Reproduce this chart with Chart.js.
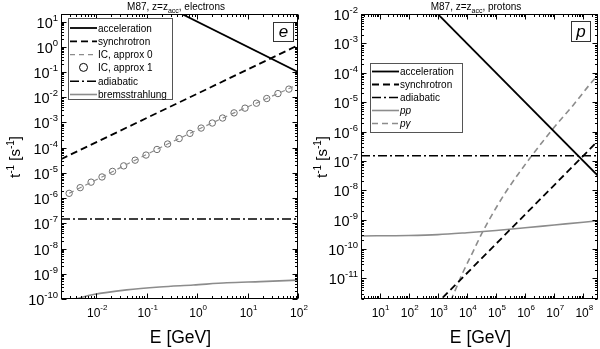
<!DOCTYPE html>
<html lang="en">
<head>
<meta charset="UTF-8">
<title>M87, z=z_acc: electron and proton rates</title>
<style>
  body { margin: 0; background: #fff; }
  .wrap { position: relative; width: 600px; height: 349px; overflow: hidden; }
  #leftChart { position: absolute; left: 0; top: 0; }
  #rightChart { position: absolute; left: 300px; top: 0; }
</style>
<script src="https://cdn.jsdelivr.net/npm/chart.js"></script>
</head>
<body>
<div class="wrap">
  <canvas id="leftChart" width="310" height="349" style="width:310px;height:349px"></canvas>
  <canvas id="rightChart" width="300" height="349" style="width:300px;height:349px"></canvas>
</div>
<script>
// electrons, E in GeV, rates in 1/s
const elecAccE = [0.4, 100];
const elecAccRate = [25, 0.1];
const elecSynE = [0.002, 100];
const elecSynRate = [3.5e-5, 1.15];
const elecIc0E = [0.0029, 0.013, 0.059, 0.26, 1.2, 5.4, 24, 100];
const elecIc0Rate = [1.55e-6, 6.9e-6, 3.2e-5, 1.4e-4, 6.0e-4, 2.4e-3, 8.9e-3, 3.2e-2];
const elecIc1E = [0.0029, 0.0048, 0.0079, 0.013, 0.021, 0.035, 0.059, 0.097, 0.16, 0.26, 0.44,
                  0.72, 1.2, 2.0, 3.2, 5.4, 8.9, 15, 24, 40, 66];
const elecIc1Rate = [1.55e-6, 2.6e-6, 4.3e-6, 6.9e-6, 1.15e-5, 1.9e-5, 3.2e-5, 5.1e-5, 8.5e-5, 1.4e-4, 2.3e-4,
                     3.7e-4, 6.0e-4, 9.5e-4, 1.5e-3, 2.4e-3, 3.7e-3, 5.8e-3, 8.9e-3, 1.4e-2, 2.1e-2];
const elecAdiE = [0.002, 100];
const elecAdiRate = [1.5e-7, 1.5e-7];
const elecBremE = [0.0038, 0.0088, 0.04, 0.18, 0.84, 3.9, 18, 100];
const elecBremRate = [1.0e-10, 1.5e-10, 2.3e-10, 3.0e-10, 3.6e-10, 4.4e-10, 4.9e-10, 5.6e-10];

// protons
const protAccE = [800, 3.2e8];
const protAccRate = [0.0125, 3.1e-8];
const protSynE = [800, 3.2e8];
const protSynRate = [1.2e-12, 4.8e-7];
const protAdiE = [2.3, 3.2e8];
const protAdiRate = [1.5e-7, 1.5e-7];
const protPpE = [2.3, 100, 1e3, 1e4, 1e5, 1e6, 1e7, 1e8, 3.2e8];
const protPpRate = [2.8e-10, 2.9e-10, 3.1e-10, 3.6e-10, 4.3e-10, 5.3e-10, 6.6e-10, 8.2e-10, 9.2e-10];
const protPgE = [2.8e3, 4e3, 5.6e3, 7.9e3, 1.6e4, 3.5e4, 1e5, 2.2e5, 6.3e5, 1.6e6, 4e6, 1e7, 4.5e7, 1.6e8, 3.2e8];
const protPgRate = [1.8e-12, 4e-12, 8.9e-12, 1.9e-11, 7.9e-11, 3.9e-10, 2.5e-9, 8.9e-9, 4e-8, 1.4e-7,
                    4.5e-7, 1.4e-6, 7.9e-6, 3.8e-5, 8.5e-5];

// tick labels (powers of ten)
const elecXExp = [-2, -1, 0, 1, 2];
const elecYExp = [1, 0, -1, -2, -3, -4, -5, -6, -7, -8, -9, -10];
const protXExp = [1, 2, 3, 4, 5, 6, 7, 8];
const protYExp = [-2, -3, -4, -5, -6, -7, -8, -9, -10, -11];

const FONT = '"Liberation Sans", Arial, Helvetica, sans-serif';
const GRAY = '#8c8c8c';

const pts = (xs, ys) => xs.map((x, i) => ({ x: x, y: ys[i] }));

function line(label, xs, ys, color, width, dash, extra) {
    return Object.assign({
        label: label,
        data: pts(xs, ys),
        showLine: true,
        borderColor: color,
        borderWidth: width,
        borderDash: dash,
        pointRadius: 0,
        fill: false,
        clip: 0
    }, extra || {});
}

// draw a run of text pieces: [text, size, dy, italic]
function rich(ctx, parts, x, y, align) {
    let w = 0;
    parts.forEach(p => {
        ctx.font = (p[3] ? 'italic ' : '') + p[1] + 'px ' + FONT;
        w += ctx.measureText(p[0]).width;
    });
    let cx = align === 'center' ? x - w / 2 : (align === 'right' ? x - w : x);
    ctx.textAlign = 'left';
    ctx.textBaseline = 'alphabetic';
    parts.forEach(p => {
        ctx.font = (p[3] ? 'italic ' : '') + p[1] + 'px ' + FONT;
        ctx.fillText(p[0], cx, y + (p[2] || 0));
        cx += ctx.measureText(p[0]).width;
    });
}

const decor = {
    id: 'decor',
    afterDraw(chart, args, o) {
        const ctx = chart.ctx, a = chart.chartArea;
        const xs = chart.scales.x, ys = chart.scales.y;
        ctx.save();
        ctx.fillStyle = '#000';
        ctx.strokeStyle = '#000';
        ctx.lineWidth = 1;
        ctx.setLineDash([]);

        // frame
        const L = Math.round(a.left) + 0.5, R = Math.round(a.right) - 0.5;
        const T = Math.round(a.top) + 0.5, B = Math.round(a.bottom) - 0.5;
        ctx.strokeRect(L, T, R - L, B - T);

        // log ticks on all four sides
        ctx.beginPath();
        [[xs, true], [ys, false]].forEach(([s, horiz]) => {
            const d0 = Math.floor(Math.log10(s.min)), d1 = Math.ceil(Math.log10(s.max));
            for (let d = d0; d <= d1; d++) {
                for (let m = 1; m < 10; m++) {
                    const v = m * Math.pow(10, d);
                    if (v < s.min * 0.999 || v > s.max * 1.001) continue;
                    const p = Math.round(s.getPixelForValue(v)) + 0.5;
                    const len = m === 1 ? 5 : 2.5;
                    if (horiz) {
                        ctx.moveTo(p, B); ctx.lineTo(p, B - len);
                        ctx.moveTo(p, T); ctx.lineTo(p, T + len);
                    } else {
                        ctx.moveTo(L, p); ctx.lineTo(L + len, p);
                        ctx.moveTo(R, p); ctx.lineTo(R - len, p);
                    }
                }
            }
        });
        ctx.stroke();

        // tick labels
        o.xExp.forEach(e => {
            const px = xs.getPixelForValue(Math.pow(10, e));
            rich(ctx, [['10', 12], [String(e), 8, -7]], px + 1, 317, 'center');
        });
        o.yExp.forEach(e => {
            const py = ys.getPixelForValue(Math.pow(10, e));
            rich(ctx, [['10', 14.5], [String(e), 9.5, -7]], 58, py + 6, 'right');
        });

        // axis titles
        rich(ctx, [['E [GeV]', 17.5]], (a.left + a.right) / 2 + 1, 343, 'center');
        ctx.save();
        ctx.translate(o.yTitleX, 157);
        ctx.rotate(-Math.PI / 2);
        rich(ctx, [['t', 15], ['-1', 10, -6], [' [s', 15], ['-1', 10, -6], [']', 15]], 0, 0, 'center');
        ctx.restore();

        // title
        rich(ctx, [['M87, z=z', 10], ['acc', 7, 3], [', ' + o.species, 10]], 176, 10, 'center');

        // particle tag box
        const t = o.tag;
        ctx.fillStyle = '#fff';
        ctx.fillRect(t.x, t.y, t.w, t.h);
        ctx.strokeStyle = '#333';
        ctx.strokeRect(t.x + 0.5, t.y + 0.5, t.w, t.h);
        ctx.fillStyle = '#000';
        rich(ctx, [[t.text, 17, 0, true]], t.x + t.w / 2 + 0.5, t.base, 'center');

        // legend
        const g = o.legend;
        ctx.fillStyle = '#fff';
        ctx.fillRect(g.x, g.y, g.w, g.h);
        ctx.strokeStyle = '#555';
        ctx.strokeRect(g.x + 0.5, g.y + 0.5, g.w, g.h);
        g.items.forEach((it, k) => {
            const ds = chart.data.datasets[it.ds];
            const y = g.y + g.first + k * g.step;
            const x0 = g.x + 2, x1 = g.x + 29;
            if (ds.showLine === false) {
                ctx.setLineDash([]);
                ctx.strokeStyle = '#000';
                ctx.lineWidth = 1;
                ctx.beginPath();
                ctx.arc((x0 + x1) / 2, y, 4, 0, Math.PI * 2);
                ctx.stroke();
            } else {
                ctx.setLineDash(ds.borderDash || []);
                ctx.strokeStyle = ds.borderColor;
                ctx.lineWidth = ds.borderWidth;
                ctx.beginPath();
                ctx.moveTo(x0, y + 0.5);
                ctx.lineTo(x1, y + 0.5);
                ctx.stroke();
            }
            ctx.setLineDash([]);
            ctx.fillStyle = '#000';
            rich(ctx, [[ds.label, 10, 0, it.italic]], x1 + 1, y + 4, 'left');
        });
        ctx.restore();
    }
};

function panel(id, datasets, xMin, xMax, yMin, yMax, padRight, decorOpts) {
    return new Chart(document.getElementById(id).getContext('2d'), {
        type: 'scatter',
        data: { datasets: datasets },
        options: {
            responsive: false,
            animation: false,
            layout: { padding: { left: 61, right: padRight, top: 14, bottom: 50 } },
            plugins: { legend: { display: false }, tooltip: { enabled: false }, decor: decorOpts },
            scales: {
                x: { type: 'logarithmic', min: xMin, max: xMax, display: false },
                y: { type: 'logarithmic', min: yMin, max: yMax, display: false }
            }
        },
        plugins: [decor]
    });
}

panel('leftChart', [
    line('acceleration', elecAccE, elecAccRate, '#000', 1.8, []),
    line('synchrotron', elecSynE, elecSynRate, '#000', 1.8, [7, 4]),
    line('IC, approx 0', elecIc0E, elecIc0Rate, GRAY, 1.2, [5, 4]),
    line('IC, approx 1', elecIc1E, elecIc1Rate, '#6e6e6e', 1, [], {
        showLine: false, pointRadius: 3.2, pointBorderWidth: 1,
        pointBorderColor: '#6e6e6e', pointBackgroundColor: 'rgba(0,0,0,0)'
    }),
    line('adiabatic', elecAdiE, elecAdiRate, '#000', 1.5, [9, 3, 2, 3]),
    line('bremsstrahlung', elecBremE, elecBremRate, GRAY, 1.6, [], { cubicInterpolationMode: 'monotone' })
], 0.002, 100, 1e-10, 20, 12, {
    species: 'electrons',
    xExp: elecXExp, yExp: elecYExp, yTitleX: 20,
    tag: { x: 273, y: 22, w: 20, h: 19, text: 'e', base: 36.5 },
    legend: {
        x: 68, y: 18, w: 104, h: 81, first: 9.5, step: 13.3,
        items: [{ ds: 0 }, { ds: 1 }, { ds: 2 }, { ds: 3 }, { ds: 4 }, { ds: 5 }]
    }
});

panel('rightChart', [
    line('acceleration', protAccE, protAccRate, '#000', 1.8, []),
    line('synchrotron', protSynE, protSynRate, '#000', 1.8, [7, 4]),
    line('adiabatic', protAdiE, protAdiRate, '#000', 1.5, [9, 3, 2, 3]),
    line('pp', protPpE, protPpRate, GRAY, 1.6, [], { cubicInterpolationMode: 'monotone' }),
    line('p\u03b3', protPgE, protPgRate, GRAY, 1.6, [6, 4], { cubicInterpolationMode: 'monotone' })
], 2.3, 3.2e8, 2e-12, 1e-2, 2, {
    species: 'protons',
    xExp: protXExp, yExp: protYExp, yTitleX: 27,
    tag: { x: 271, y: 21, w: 19, h: 20, text: 'p', base: 36.5 },
    legend: {
        x: 70, y: 63, w: 92, h: 69, first: 8, step: 13,
        items: [{ ds: 0 }, { ds: 1 }, { ds: 2 }, { ds: 3, italic: true }, { ds: 4, italic: true }]
    }
});
</script>
</body>
</html>
